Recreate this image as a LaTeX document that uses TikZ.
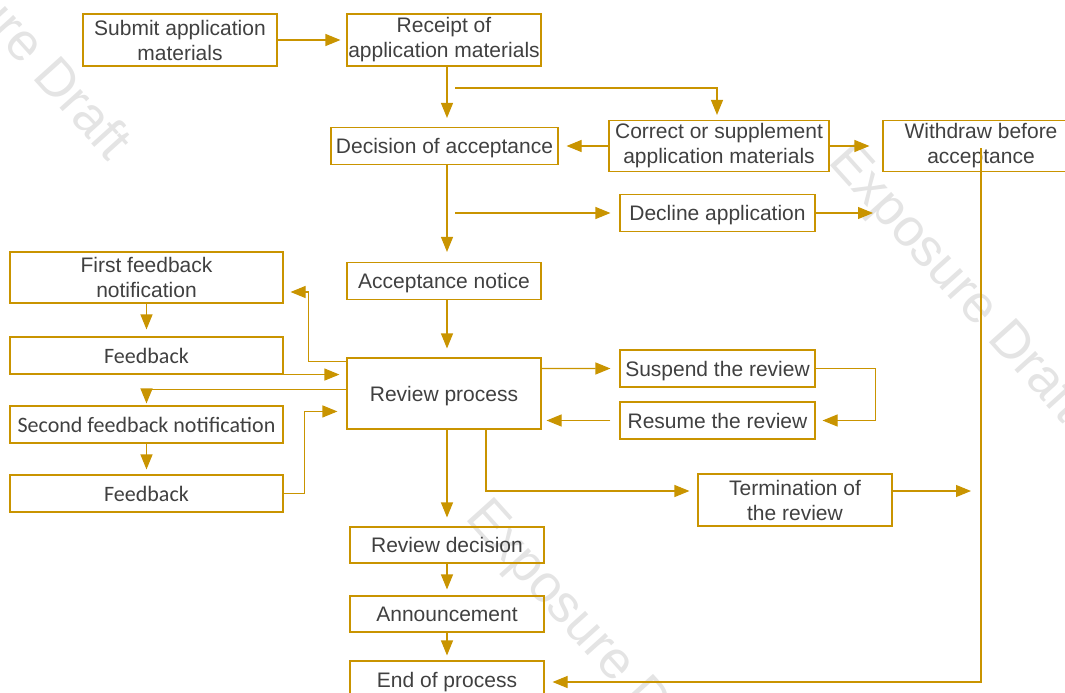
\documentclass[tikz,border=0pt]{standalone}
\usepackage{fontspec}
\setmainfont{Liberation Sans}
\newfontfamily\carlitofont{Carlito}
\usetikzlibrary{arrows.meta,calc}
\definecolor{gold}{RGB}{201,148,0}
\definecolor{txt}{RGB}{64,64,64}
\definecolor{wm}{RGB}{228,228,228}
\tikzset{
  box/.style={draw=gold, line width=1.1pt, inner sep=0pt, align=center, text=txt,
    font=\fontsize{21}{25}\selectfont},
  onebox/.style={box, text height=18pt, text depth=3pt},
  cbox/.style={box, font=\carlitofont\fontsize{22}{25}\selectfont},
  arr/.style={draw=gold, line width=1.1pt, -{Triangle[length=15pt,width=12pt]}},
  wmark/.style={text=wm, font=\fontsize{53}{60}\selectfont, rotate=-48, anchor=base west, inner sep=0pt}
}
\begin{document}
\begin{tikzpicture}[x=1pt,y=-1pt]
\useasboundingbox (0,0) rectangle (1065,693);
% watermarks
\node[wmark] (wm1) at (-128,-100) {Exposure Draft};
\node[wmark] (wm2) at (827,162) {Exposure Draft};
\node[wmark] (wm3) at (464,518) {Exposure Draft};
% nodes
\node[box, minimum width=194pt, minimum height=52pt] (submit) at (180,40) {Submit application\\materials};
\node[box, minimum width=194pt, minimum height=52pt] (receipt) at (444,40) {Receipt of\\application materials};
\node[onebox, minimum width=227pt, minimum height=37pt] (decision) at (444.5,146) {Decision of acceptance};
\node[box, minimum width=220pt, minimum height=51pt] (correct) at (719,146) {Correct or supplement\\application materials};
\node[box, minimum width=196pt, minimum height=51pt] (withdraw) at (981,146) {Withdraw before\\acceptance};
\node[onebox, minimum width=195pt, minimum height=37pt] (decline) at (717.5,213) {Decline application};
\node[onebox, minimum width=194pt, minimum height=37pt] (accept) at (444,281) {Acceptance notice};
\node[box, minimum width=273pt, minimum height=51pt] (first) at (146.5,277.5) {First feedback\\notification};
\node[cbox, minimum width=273pt, minimum height=37pt] (fb1) at (146.5,355.5) {Feedback};
\node[onebox, minimum width=194pt, minimum height=71pt] (review) at (444,393.5) {Review process};
\node[cbox, minimum width=273pt, minimum height=37pt] (second) at (146.5,424.5) {Second feedback notification};
\node[cbox, minimum width=273pt, minimum height=37pt] (fb2) at (146.5,493.5) {Feedback};
\node[onebox, minimum width=195pt, minimum height=37pt] (suspend) at (717.5,368.5) {Suspend the review};
\node[onebox, minimum width=195pt, minimum height=37pt] (resume) at (717.5,420.5) {Resume the review};
\node[box, minimum width=194pt, minimum height=52pt] (term) at (795,500) {Termination of\\the review};
\node[onebox, minimum width=194pt, minimum height=36pt] (rd) at (447,545) {Review decision};
\node[onebox, minimum width=194pt, minimum height=36pt] (ann) at (447,614) {Announcement};
\node[onebox, minimum width=194pt, minimum height=38pt] (end) at (447,680) {End of process};
% helper coordinates
\coordinate (b1) at (455,88);
\coordinate (b2) at (455,213);
\coordinate (d1) at (873,213);
\coordinate (t1) at (971,491);
% connectors
\draw[arr, shorten >=6pt] (submit.east) -- (receipt.west);
\draw[arr, shorten >=9pt] ([xshift=3pt]receipt.south) -- ([xshift=2.5pt]decision.north);
\draw[arr, shorten >=5pt] (b1) -| ([xshift=-2pt]correct.north);
\draw[arr, shorten >=8pt] (correct.west) -- (decision.east);
\draw[arr, shorten >=13pt] (correct.east) -- (withdraw.west);
\draw[arr, shorten >=10pt] ([xshift=2.5pt]decision.south) -- ([xshift=3pt]accept.north);
\draw[arr, shorten >=9pt] (b2) -- (decline.west);
\draw[arr] (decline.east) -- (d1);
\draw[arr, shorten >=8pt] ([yshift=-2pt]withdraw.center) |- ([yshift=-2pt]end.east);
\draw[arr, shorten >=9pt] ([xshift=3pt]accept.south) -- ([xshift=3pt]review.north);
\draw[arr, shorten >=7pt] ([yshift=-4pt]review.north west) -- ++(-38,0) |- ([yshift=-14.5pt]first.east);
\draw[arr, shorten >=7pt] (fb1.south east) -- (review.west |- fb1.south east);
\draw[arr, shorten >=2pt] ([yshift=-32pt]review.north west) -| (second.north);
\draw[arr, shorten >=7pt] (first.south) -- (fb1.north);
\draw[arr, shorten >=5pt] (second.south) -- (fb2.north);
\draw[arr, shorten >=9pt] (fb2.east) -- ++(21,0) |- ([yshift=-54pt]review.north west);
\draw[arr, shorten >=9pt] ([yshift=-11pt]review.north east) -- (suspend.west);
\draw[arr, shorten >=7pt] (suspend.east) -- ++(60,0) |- (resume.east);
\draw[arr, shorten <=9pt, shorten >=5pt] (resume.west) -- (review.east |- resume.west);
\draw[arr, shorten >=9pt] ([xshift=3pt]review.south) -- (rd.north);
\draw[arr, shorten >=8pt] ([xshift=42pt]review.south) |- ([yshift=9pt]term.west);
\draw[arr] ([yshift=9pt]term.east) -- (t1);
\draw[arr, shorten >=6pt] (rd.south) -- (ann.north);
\draw[arr, shorten >=5pt] (ann.south) -- (end.north);
\end{tikzpicture}
\end{document}
